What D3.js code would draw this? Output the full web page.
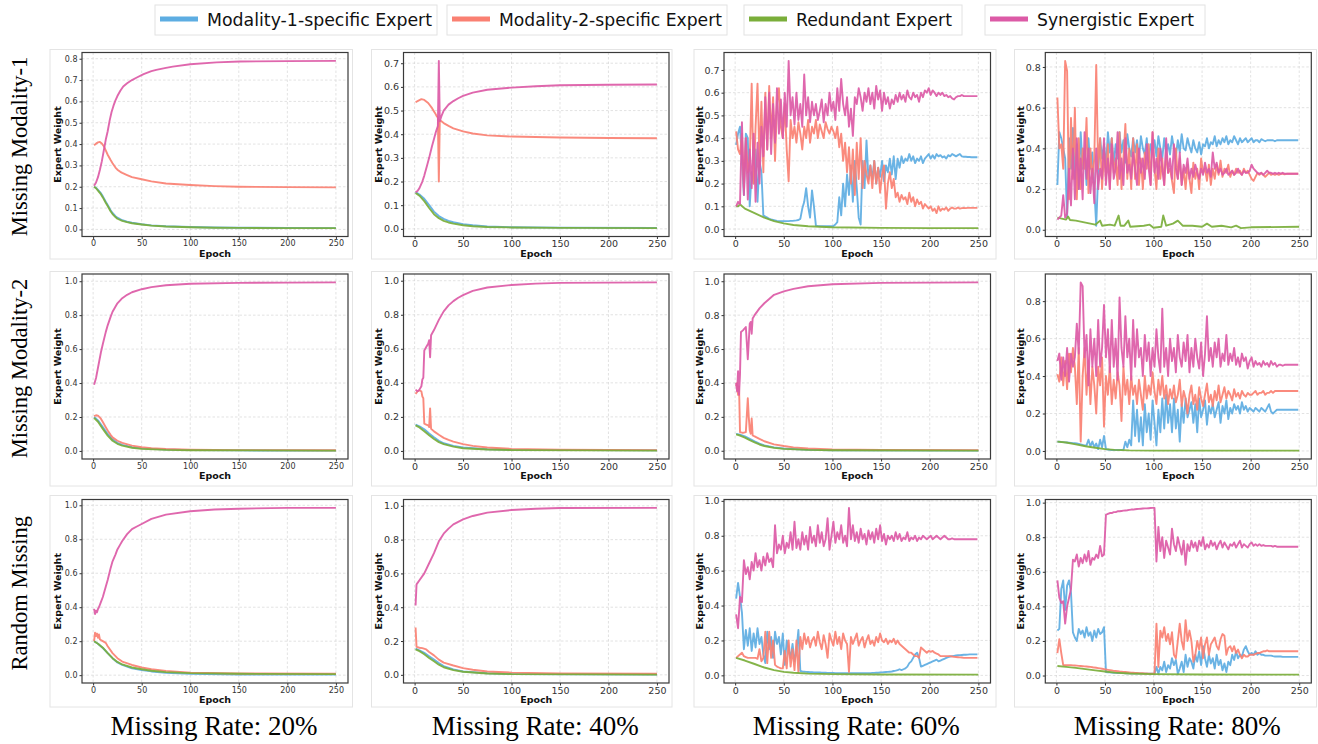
<!DOCTYPE html>
<html><head><meta charset="utf-8">
<script src="https://cdn.jsdelivr.net/npm/d3@7"></script>
<style>body{margin:0;background:#fff}svg{display:block}</style>
</head><body><svg id="c" width="1318" height="744"></svg>
<script>
// ---------------- DATA ----------------
const seriesNames = ["Modality-1-specific Expert","Modality-2-specific Expert","Redundant Expert","Synergistic Expert"];
const rowNames = ["Missing Modality-1","Missing Modality-2","Random Missing"];
const colNames = ["Missing Rate: 20%","Missing Rate: 40%","Missing Rate: 60%","Missing Rate: 80%"];
const xTicks = [0,50,100,150,200,250];
const yT08a = [0,.1,.2,.3,.4,.5,.6,.7,.8];
const yT07 = [0,.1,.2,.3,.4,.5,.6,.7];
const yT08b = [0,.2,.4,.6,.8];
const yT10 = [0,.2,.4,.6,.8,1.0];

// Row 1, col 1 (pairs [epoch, value])
const r1c1_m1 = [[1,.2],[3,.195],[5,.185],[8,.17],[10,.155],[13,.13],[15,.115],[18,.09],[20,.077],[23,.062],[25,.055],[30,.043],[35,.036],[40,.031],[50,.024],[60,.019],[75,.015],[100,.011],[125,.009],[150,.008],[200,.007],[250,.006]];
const r1c1_r  = [[1,.2],[3,.193],[5,.182],[8,.165],[10,.15],[13,.125],[15,.11],[18,.085],[20,.072],[23,.058],[25,.05],[30,.04],[35,.034],[40,.029],[50,.023],[60,.018],[75,.014],[100,.01],[125,.008],[150,.007],[200,.006],[250,.006]];
const r1c1_m2 = [[1,.395],[3,.402],[5,.408],[7,.41],[9,.403],[11,.39],[13,.37],[15,.35],[18,.325],[20,.31],[23,.29],[25,.28],[28,.27],[30,.265],[35,.255],[40,.245],[50,.235],[60,.225],[75,.215],[100,.208],[125,.203],[150,.2],[200,.198],[250,.197]];
const r1c1_s  = [[1,.205],[3,.22],[5,.245],[7,.28],[9,.32],[11,.37],[13,.42],[15,.46],[17,.51],[19,.55],[21,.58],[23,.605],[25,.625],[28,.65],[31,.67],[35,.685],[40,.7],[45,.712],[52,.728],[60,.742],[65,.748],[75,.757],[82,.763],[100,.774],[127,.783],[151,.787],[200,.789],[250,.79]];

// Row 1, col 2
const r1c2_m1 = [[1,.155],[5,.145],[10,.127],[15,.1],[20,.073],[25,.054],[30,.042],[35,.034],[40,.028],[50,.02],[60,.015],[75,.01],[100,.007],[150,.005],[250,.004]];
const r1c2_r  = [[1,.152],[5,.14],[10,.117],[15,.088],[20,.062],[25,.045],[30,.034],[35,.027],[40,.022],[50,.015],[60,.011],[75,.008],[100,.006],[150,.004],[250,.003]];
const r1c2_m2 = [[1,.535],[4,.542],[7,.548],[10,.545],[14,.532],[18,.51],[21,.49],[23,.475],[24,.47],[25,.2],[26,.46],[30,.447],[35,.435],[40,.425],[50,.412],[60,.403],[75,.395],[100,.39],[150,.386],[200,.384],[250,.383]];
const r1c2_s  = [[1,.155],[3,.16],[5,.172],[8,.2],[10,.225],[13,.27],[15,.3],[18,.35],[20,.38],[22,.41],[24,.435],[25,.71],[26,.455],[28,.48],[30,.5],[35,.525],[40,.54],[45,.552],[50,.562],[60,.576],[75,.588],[100,.597],[125,.603],[150,.607],[200,.609],[250,.61]];

// Row 1, col 3 (values at epochs 1,3,5,...,249)
const r1c3_m1 = [
.37,.42,.45,.30,.15,.42,.40,.10,.25,.20,
.35,.12,.30,.25,.06,.055,.05,.045,.042,.04,
.038,.036,.035,.034,.034,.035,.035,.035,.036,.036,
.037,.038,.040,.045,.09,.12,.18,.10,.05,.17,
.10,.015,.013,.012,.012,.012,.012,.012,.012,.013,
.013,.02,.03,.14,.06,.20,.10,.24,.15,.28,
.12,.30,.18,.05,.02,.30,.18,.39,.22,.28,
.22,.30,.20,.27,.23,.30,.21,.28,.25,.31,
.24,.32,.22,.31,.27,.32,.29,.31,.30,.33,
.30,.32,.29,.31,.30,.32,.29,.31,.32,.33,
.31,.325,.31,.33,.32,.325,.315,.32,.31,.325,
.32,.33,.325,.32,.325,.33,.32,.318,.318,.317,
.317,.316,.316,.316,.316];
const r1c3_m2 = [
.43,.35,.33,.42,.18,.40,.25,.30,.64,.20,
.45,.64,.30,.56,.25,.60,.35,.63,.40,.58,
.30,.55,.62,.45,.40,.55,.35,.21,.48,.40,
.45,.38,.47,.42,.35,.45,.40,.48,.38,.45,
.42,.48,.40,.46,.43,.40,.47,.44,.42,.45,
.43,.40,.45,.36,.42,.30,.38,.25,.36,.20,
.35,.15,.38,.22,.40,.18,.30,.24,.20,.28,
.18,.30,.20,.27,.16,.24,.28,.09,.20,.25,
.18,.22,.14,.16,.12,.15,.13,.14,.11,.16,
.12,.14,.10,.13,.11,.12,.09,.11,.10,.09,
.10,.08,.09,.07,.10,.08,.09,.085,.095,.08,
.09,.095,.09,.09,.095,.09,.092,.093,.092,.093,
.093,.093,.093,.093,.093];
const r1c3_r = [[1,.10],[3,.10],[5,.11],[6,.105],[10,.09],[15,.08],[20,.07],[30,.05],[40,.035],[50,.025],[60,.018],[75,.012],[100,.008],[150,.005],[200,.004],[250,.004]];
const r1c3_s = [
.10,.12,.11,.47,.15,.40,.13,.35,.18,.42,
.12,.38,.20,.45,.32,.58,.35,.60,.33,.55,
.38,.62,.42,.57,.40,.60,.45,.74,.50,.58,
.46,.60,.48,.55,.45,.68,.50,.58,.47,.56,
.50,.55,.48,.52,.57,.47,.55,.50,.60,.52,
.56,.48,.62,.52,.66,.55,.50,.58,.45,.53,
.41,.58,.55,.62,.58,.52,.60,.56,.62,.55,
.60,.53,.63,.57,.61,.52,.60,.55,.58,.53,
.57,.55,.59,.56,.60,.57,.59,.56,.61,.58,
.57,.60,.58,.59,.56,.60,.58,.61,.60,.62,
.59,.61,.60,.585,.60,.59,.60,.585,.59,.58,
.585,.575,.57,.58,.585,.585,.59,.585,.585,.585,
.585,.585,.585,.585,.585];

// Row 1, col 4
const r1c4_m1 = [
.22,.48,.45,.40,.35,.06,.45,.30,.50,.25,
.42,.20,.48,.30,.40,.22,.45,.30,.38,.20,
.02,.28,.45,.35,.42,.30,.48,.38,.45,.32,
.42,.35,.48,.38,.44,.33,.47,.40,.36,.45,
.38,.44,.35,.46,.40,.37,.45,.33,.42,.38,
.44,.36,.46,.40,.35,.45,.38,.42,.37,.46,
.40,.36,.44,.38,.47,.40,.39,.45,.41,.38,
.44,.40,.38,.43,.37,.42,.41,.45,.40,.43,
.42,.46,.41,.44,.42,.45,.43,.46,.42,.44,
.43,.46,.44,.42,.45,.43,.44,.45,.43,.44,
.45,.43,.44,.44,.43,.445,.44,.435,.44,.44,
.44,.44,.435,.44,.44,.44,.44,.44,.44,.44,
.44,.44,.44,.44,.44];
const r1c4_m2 = [
.65,.40,.42,.30,.83,.78,.15,.55,.25,.60,
.15,.45,.20,.40,.30,.55,.18,.40,.25,.35,
.81,.30,.45,.20,.38,.25,.42,.20,.45,.28,
.35,.22,.48,.20,.35,.52,.25,.40,.20,.45,
.25,.42,.22,.35,.20,.38,.30,.42,.22,.48,
.30,.20,.40,.25,.35,.22,.38,.28,.30,.24,
.18,.40,.25,.35,.22,.30,.20,.32,.25,.18,
.33,.25,.30,.20,.35,.28,.30,.24,.32,.22,
.30,.25,.32,.27,.34,.26,.30,.28,.32,.26,
.29,.27,.30,.28,.29,.27,.30,.28,.29,.27,
.25,.24,.26,.28,.27,.28,.27,.26,.27,.28,
.27,.275,.27,.275,.27,.275,.275,.272,.275,.275,
.275,.275,.275,.275,.275];
const r1c4_r = [[1,.06],[10,.05],[12,.065],[14,.048],[20,.045],[30,.035],[40,.025],[45,.045],[47,.02],[55,.025],[60,.02],[64,.07],[66,.02],[70,.02],[74,.045],[76,.015],[90,.02],[96,.025],[100,.01],[108,.015],[110,.07],[113,.02],[120,.03],[125,.045],[130,.02],[140,.02],[150,.015],[155,.03],[160,.015],[170,.02],[180,.012],[185,.02],[190,.008],[200,.012],[250,.015]];
const r1c4_s = [
.05,.06,.07,.17,.06,.08,.30,.12,.40,.15,
.45,.20,.35,.15,.48,.25,.40,.18,.30,.13,
.40,.20,.30,.25,.45,.22,.35,.20,.42,.25,
.30,.48,.25,.35,.22,.45,.28,.32,.25,.38,
.30,.22,.40,.28,.35,.25,.42,.30,.22,.48,
.28,.35,.25,.40,.30,.22,.45,.28,.35,.25,
.42,.30,.25,.38,.22,.32,.28,.35,.25,.30,
.26,.32,.28,.25,.30,.27,.33,.28,.30,.26,
.38,.30,.33,.28,.30,.27,.28,.30,.27,.28,
.29,.27,.28,.30,.28,.27,.29,.28,.28,.29,
.32,.30,.29,.28,.275,.28,.27,.28,.29,.28,
.28,.275,.28,.275,.28,.275,.28,.275,.275,.275,
.275,.275,.275,.275,.275];

// Row 2
const r2c1_m1 = [[1,.2],[5,.18],[10,.14],[15,.1],[20,.068],[25,.048],[30,.036],[40,.022],[50,.015],[75,.008],[100,.005],[150,.003],[250,.002]];
const r2c1_r  = [[1,.195],[5,.172],[10,.13],[15,.09],[20,.06],[25,.042],[30,.031],[40,.019],[50,.012],[75,.006],[100,.004],[250,.002]];
const r2c1_m2 = [[1,.205],[3,.21],[5,.208],[8,.19],[10,.17],[13,.14],[15,.12],[18,.095],[20,.08],[25,.06],[30,.047],[40,.031],[50,.022],[60,.016],[75,.011],[100,.007],[150,.005],[250,.004]];
const r2c1_s  = [[1,.39],[3,.43],[5,.49],[8,.58],[10,.63],[13,.7],[15,.74],[18,.79],[20,.82],[25,.87],[30,.9],[35,.92],[40,.935],[50,.953],[60,.965],[75,.976],[100,.985],[150,.99],[200,.992],[250,.993]];

const r2c2_m1 = [[1,.155],[5,.145],[10,.127],[15,.102],[20,.08],[25,.06],[30,.045],[40,.03],[50,.02],[75,.01],[100,.006],[250,.003]];
const r2c2_r  = [[1,.15],[5,.138],[10,.116],[15,.092],[20,.07],[25,.052],[30,.04],[40,.025],[50,.016],[75,.008],[100,.005],[250,.002]];
const r2c2_m2 = [[1,.335],[3,.35],[5,.355],[7,.35],[8,.32],[9,.31],[10,.16],[12,.155],[14,.15],[15,.14],[16,.25],[17,.13],[20,.115],[25,.095],[30,.077],[35,.065],[40,.055],[50,.04],[60,.03],[75,.02],[100,.012],[150,.007],[250,.005]];
const r2c2_s  = [[1,.36],[3,.35],[5,.36],[7,.38],[8,.42],[9,.43],[10,.59],[12,.61],[14,.63],[15,.65],[16,.55],[17,.68],[20,.71],[25,.77],[30,.82],[35,.855],[40,.88],[45,.9],[50,.915],[60,.94],[75,.96],[100,.975],[125,.983],[150,.987],[200,.989],[250,.99]];

const r2c3_m1 = [[1,.1],[5,.095],[10,.085],[15,.07],[20,.055],[25,.042],[30,.032],[40,.02],[50,.013],[75,.006],[100,.003],[250,.001]];
const r2c3_r  = [[1,.097],[5,.09],[10,.078],[15,.063],[20,.05],[25,.037],[30,.028],[40,.017],[50,.011],[75,.005],[100,.003],[250,.001]];
const r2c3_m2 = [[1,.38],[2,.4],[3,.33],[4,.38],[5,.11],[8,.105],[11,.11],[13,.31],[14,.2],[15,.12],[16,.1],[17,.19],[18,.09],[20,.085],[25,.07],[30,.056],[40,.038],[50,.028],[60,.02],[75,.013],[100,.008],[150,.005],[250,.004]];
const r2c3_s  = [[1,.4],[2,.35],[3,.47],[4,.33],[5,.45],[6,.7],[8,.71],[11,.73],[13,.54],[15,.75],[16,.76],[17,.69],[18,.78],[20,.8],[25,.84],[30,.87],[35,.895],[40,.92],[50,.94],[60,.955],[75,.97],[100,.982],[150,.99],[250,.993]];

const r2c4_m1 = [
.05,.049,.048,.047,.046,.045,.044,.043,.042,.041,
.04,.038,.035,.032,.03,.03,.06,.025,.05,.02,
.04,.01,.06,.02,.08,.01,.008,.006,.005,.005,
.005,.005,.005,.005,.005,.05,.02,.06,.03,.27,
.08,.22,.05,.18,.03,.25,.10,.20,.06,.27,
.15,.03,.22,.10,.28,.12,.30,.15,.25,.10,
.28,.12,.22,.05,.25,.15,.28,.18,.22,.26,
.15,.25,.10,.28,.18,.22,.27,.14,.24,.20,
.25,.18,.22,.26,.15,.24,.20,.27,.17,.23,
.20,.25,.22,.24,.20,.26,.22,.24,.21,.23,
.22,.21,.23,.22,.21,.23,.22,.21,.23,.25,
.21,.20,.21,.22,.22,.22,.22,.22,.22,.22,
.22,.22,.22,.22,.22];
const r2c4_m2 = [
.41,.37,.50,.35,.48,.33,.52,.42,.55,.45,
.25,.55,.05,.40,.55,.30,.48,.25,.45,.35,
.20,.45,.35,.50,.13,.40,.30,.45,.25,.38,
.28,.42,.35,.16,.45,.30,.38,.25,.40,.30,
.35,.25,.38,.30,.22,.40,.28,.35,.30,.42,
.32,.25,.38,.30,.40,.28,.35,.25,.33,.28,
.35,.26,.30,.38,.24,.32,.28,.20,.30,.35,
.25,.30,.22,.34,.28,.24,.30,.36,.26,.30,
.24,.32,.27,.35,.26,.30,.34,.28,.32,.30,
.27,.33,.29,.31,.28,.32,.30,.29,.31,.30,
.30,.31,.32,.30,.31,.31,.32,.30,.31,.31,
.32,.31,.32,.32,.32,.32,.32,.32,.32,.32,
.32,.32,.32,.32,.32];
const r2c4_r = [[1,.05],[10,.045],[20,.035],[30,.025],[40,.017],[50,.01],[60,.006],[75,.003],[100,.002],[250,.002]];
const r2c4_s = [
.48,.52,.38,.50,.40,.55,.37,.52,.45,.50,
.68,.52,.90,.88,.50,.62,.35,.65,.45,.60,
.40,.70,.45,.55,.78,.50,.65,.42,.70,.45,
.60,.38,.82,.55,.45,.72,.50,.60,.38,.70,
.45,.65,.50,.55,.40,.62,.48,.58,.40,.55,
.45,.65,.50,.42,.76,.45,.55,.40,.60,.48,
.55,.42,.62,.50,.45,.58,.48,.62,.42,.55,
.45,.60,.50,.44,.58,.40,.52,.72,.48,.55,
.45,.58,.50,.60,.45,.52,.48,.62,.46,.52,
.48,.55,.46,.50,.45,.52,.48,.50,.44,.48,
.50,.45,.48,.46,.47,.45,.48,.46,.47,.45,
.48,.46,.47,.45,.46,.46,.455,.46,.46,.46,
.46,.46,.46,.46,.46];

// Row 3
const r3c1_m1 = [[1,.2],[5,.185],[10,.16],[15,.13],[20,.1],[25,.075],[30,.06],[40,.04],[50,.03],[60,.022],[75,.014],[100,.008],[150,.004],[250,.003]];
const r3c1_r  = [[1,.2],[5,.185],[10,.162],[15,.13],[20,.1],[25,.078],[30,.063],[40,.045],[50,.035],[60,.026],[75,.018],[100,.012],[150,.008],[250,.006]];
const r3c1_m2 = [[1,.2],[2,.25],[3,.23],[4,.245],[5,.22],[6,.24],[7,.21],[10,.2],[13,.19],[15,.17],[20,.13],[25,.1],[30,.08],[40,.06],[50,.045],[60,.035],[75,.025],[100,.015],[150,.01],[250,.008]];
const r3c1_s  = [[1,.39],[2,.36],[3,.38],[4,.37],[5,.39],[6,.4],[8,.43],[10,.46],[13,.52],[15,.56],[18,.63],[20,.67],[23,.71],[25,.74],[28,.77],[30,.79],[35,.83],[40,.86],[45,.875],[50,.89],[60,.92],[75,.945],[100,.965],[125,.975],[150,.98],[200,.985],[250,.985]];

const r3c2_m1 = [[1,.155],[5,.145],[10,.13],[15,.11],[20,.09],[25,.07],[30,.052],[40,.032],[50,.02],[75,.009],[100,.005],[250,.002]];
const r3c2_r  = [[1,.15],[5,.14],[10,.122],[15,.1],[20,.08],[25,.06],[30,.045],[40,.028],[50,.018],[75,.008],[100,.004],[250,.001]];
const r3c2_m2 = [[1,.28],[2,.165],[5,.16],[8,.158],[12,.15],[15,.135],[20,.115],[25,.09],[30,.072],[40,.055],[50,.04],[60,.03],[75,.02],[100,.013],[150,.008],[250,.006]];
const r3c2_s  = [[1,.41],[2,.535],[5,.56],[10,.6],[15,.66],[20,.72],[25,.79],[30,.835],[35,.865],[40,.89],[50,.92],[60,.94],[75,.96],[100,.975],[125,.983],[150,.987],[250,.988]];

const r3c3_m1 = [
.44,.53,.45,.36,.15,.26,.17,.27,.14,.24,
.16,.27,.18,.22,.12,.07,.25,.15,.22,.10,
.25,.18,.22,.12,.24,.06,.20,.15,.10,.18,
.08,.14,.26,.025,.022,.021,.02,.019,.018,.018,
.017,.017,.016,.016,.015,.015,.015,.014,.014,.014,
.014,.013,.013,.013,.013,.013,.012,.012,.012,.012,
.012,.012,.012,.012,.012,.013,.013,.013,.013,.013,
.014,.014,.015,.015,.016,.017,.018,.019,.02,.021,
.022,.025,.027,.03,.035,.03,.035,.04,.05,.07,
.08,.10,.12,.13,.10,.05,.055,.06,.065,.07,
.075,.08,.085,.09,.08,.085,.09,.095,.10,.105,
.108,.11,.112,.114,.115,.116,.117,.118,.118,.119,
.12,.12,.12,.12,.12];
const r3c3_m2 = [
.10,.11,.12,.13,.11,.105,.10,.10,.10,.10,
.10,.095,.15,.08,.10,.25,.07,.25,.10,.20,
.06,.05,.045,.04,.04,.14,.04,.20,.05,.15,
.03,.20,.02,.22,.15,.24,.18,.22,.16,.20,
.22,.17,.25,.19,.15,.23,.18,.10,.24,.20,
.17,.25,.18,.22,.15,.24,.20,.18,.02,.22,
.18,.21,.24,.17,.20,.22,.16,.20,.23,.18,
.20,.17,.22,.19,.24,.20,.19,.21,.18,.20,
.19,.21,.18,.20,.18,.17,.16,.15,.14,.13,
.13,.12,.11,.11,.10,.16,.15,.14,.13,.14,
.135,.14,.13,.125,.12,.11,.11,.11,.11,.11,
.11,.108,.106,.105,.104,.103,.102,.10,.10,.10,
.10,.10,.10,.10,.10];
const r3c3_r = [[1,.1],[10,.085],[20,.065],[30,.045],[40,.03],[50,.02],[60,.015],[75,.01],[100,.007],[150,.005],[250,.004]];
const r3c3_s = [
.35,.27,.45,.42,.66,.58,.62,.55,.65,.60,
.70,.62,.66,.60,.68,.63,.70,.65,.67,.62,
.86,.70,.75,.72,.80,.70,.76,.73,.82,.72,
.88,.73,.78,.72,.82,.75,.80,.72,.85,.76,
.80,.74,.86,.76,.82,.74,.78,.90,.72,.80,
.88,.76,.82,.78,.86,.76,.80,.74,.96,.78,
.86,.77,.82,.76,.84,.78,.81,.75,.83,.78,
.82,.76,.84,.78,.86,.77,.81,.75,.80,.78,
.80,.77,.82,.78,.81,.77,.79,.78,.82,.77,
.79,.78,.80,.77,.79,.78,.80,.79,.78,.79,
.80,.78,.79,.80,.79,.78,.79,.80,.79,.78,
.78,.785,.78,.78,.78,.78,.78,.78,.78,.78,
.78,.78,.78,.78,.78];

const r3c4_m1 = [
.26,.27,.50,.55,.38,.52,.55,.48,.25,.22,
.20,.27,.24,.26,.22,.28,.23,.25,.20,.26,
.22,.27,.24,.25,.28,.02,.019,.018,.017,.016,
.016,.015,.015,.014,.014,.013,.013,.013,.012,.012,
.012,.012,.011,.011,.011,.011,.011,.01,.01,.01,
.01,.05,.01,.05,.03,.08,.02,.06,.04,.10,
.06,.09,.01,.04,.08,.02,.12,.05,.10,.08,
.04,.12,.08,.14,.06,.17,.10,.05,.12,.07,
.10,.04,.12,.06,.09,.03,.07,.02,.08,.06,
.12,.09,.14,.10,.12,.11,.15,.17,.14,.12,
.13,.12,.14,.12,.13,.12,.12,.115,.115,.115,
.115,.112,.11,.11,.11,.11,.108,.108,.108,.108,
.108,.108,.108,.108,.108];
const r3c4_m2 = [
.13,.21,.13,.06,.06,.06,.06,.06,.059,.058,
.057,.056,.055,.054,.053,.052,.051,.05,.048,.046,
.045,.043,.041,.039,.037,.035,.033,.031,.029,.027,
.026,.025,.023,.022,.021,.02,.019,.018,.017,.016,
.015,.015,.014,.013,.013,.012,.012,.011,.011,.01,
.01,.30,.05,.26,.22,.28,.20,.24,.18,.25,
.12,.10,.20,.30,.20,.15,.32,.20,.26,.20,
.08,.12,.20,.15,.22,.10,.18,.22,.12,.18,
.20,.22,.17,.15,.21,.24,.23,.12,.16,.17,
.14,.17,.13,.15,.12,.10,.12,.11,.11,.12,
.12,.12,.125,.13,.13,.135,.14,.14,.145,.14,
.14,.14,.14,.14,.14,.14,.14,.14,.14,.14,
.14,.14,.14,.14,.14];
const r3c4_r = [[1,.055],[10,.05],[20,.044],[30,.037],[40,.03],[50,.023],[60,.017],[75,.012],[100,.008],[150,.006],[250,.005]];
const r3c4_s = [
.55,.45,.42,.43,.30,.40,.45,.50,.67,.66,
.70,.63,.68,.65,.70,.66,.72,.64,.68,.67,
.70,.68,.75,.69,.70,.93,.935,.94,.94,.945,
.945,.95,.95,.952,.954,.955,.956,.958,.96,.96,
.962,.963,.964,.965,.966,.967,.967,.968,.969,.97,
.97,.66,.86,.72,.80,.68,.78,.74,.70,.85,
.76,.72,.80,.75,.70,.78,.64,.76,.72,.78,
.74,.77,.72,.78,.75,.80,.73,.76,.74,.78,
.75,.77,.73,.76,.78,.74,.77,.75,.73,.76,
.75,.77,.74,.76,.78,.74,.76,.75,.74,.76,
.77,.75,.76,.75,.76,.75,.755,.75,.75,.75,
.75,.745,.75,.745,.745,.745,.745,.745,.745,.745,
.745,.745,.745,.745,.745];

// ---------------- BUILD ----------------
const COLORS = ["#5DADE2","#FA8072","#7AAE3A","#DC5AA6"];
const g2 = vals => vals.map((v,i)=>[1+2*i, v]);   // values sampled every 2 epochs from epoch 1
const P = a => (typeof a[0] === "number") ? g2(a) : a;

const panels = [
 {r:0,c:0,yt:yT08a,d:[r1c1_m1,r1c1_m2,r1c1_r,r1c1_s]},
 {r:0,c:1,yt:yT07, d:[r1c2_m1,r1c2_m2,r1c2_r,r1c2_s]},
 {r:0,c:2,yt:yT07, d:[r1c3_m1,r1c3_m2,r1c3_r,r1c3_s]},
 {r:0,c:3,yt:yT08b,d:[r1c4_m1,r1c4_m2,r1c4_r,r1c4_s]},
 {r:1,c:0,yt:yT10, d:[r2c1_m1,r2c1_m2,r2c1_r,r2c1_s]},
 {r:1,c:1,yt:yT10, d:[r2c2_m1,r2c2_m2,r2c2_r,r2c2_s]},
 {r:1,c:2,yt:yT10, d:[r2c3_m1,r2c3_m2,r2c3_r,r2c3_s]},
 {r:1,c:3,yt:yT08b,d:[r2c4_m1,r2c4_m2,r2c4_r,r2c4_s]},
 {r:2,c:0,yt:yT10, d:[r3c1_m1,r3c1_m2,r3c1_r,r3c1_s]},
 {r:2,c:1,yt:yT10, d:[r3c2_m1,r3c2_m2,r3c2_r,r3c2_s]},
 {r:2,c:2,yt:yT10, d:[r3c3_m1,r3c3_m2,r3c3_r,r3c3_s]},
 {r:2,c:3,yt:yT10, d:[r3c4_m1,r3c4_m2,r3c4_r,r3c4_s]},
];

const colL = [82, 403.5, 724, 1045.3], colR = [348, 669, 990.5, 1311.3];
const rowT = [52.5, 274, 499.5], rowB = [236.5, 459, 683];
const oL = [50, 371.5, 694, 1014.5], oR = [352.5, 672, 996, 1316.5];
const oT = [49.5, 271.5, 495.5], oB = [259, 486, 707];

const svg = d3.select("#c");
const FONT = "'DejaVu Sans', sans-serif";

panels.forEach(p => {
  const L = colL[p.c], R = colR[p.c], T = rowT[p.r], B = rowB[p.r];
  const series = p.d.map(P);
  const vals = series.flat().map(d => d[1]);
  const lo = d3.min(vals), hi = d3.max(vals), pad = (hi - lo) * 0.05;
  const x = d3.scaleLinear().domain([1 - 12.45, 250 + 12.45]).range([L, R]);
  const y = d3.scaleLinear().domain([lo - pad, hi + pad]).range([B, T]);
  const tickFs = p.c === 0 ? 8 : 9.5;

  const g = svg.append("g");
  g.append("rect").attr("x", oL[p.c]).attr("y", oT[p.r])
    .attr("width", oR[p.c] - oL[p.c]).attr("height", oB[p.r] - oT[p.r])
    .attr("fill", "none").attr("stroke", "#e4e4e4").attr("stroke-width", 1);

  // grid
  g.append("g").selectAll("line").data(xTicks).join("line")
    .attr("x1", d => x(d)).attr("x2", d => x(d)).attr("y1", T).attr("y2", B)
    .attr("stroke", "#d6d6d6").attr("stroke-width", 0.7).attr("stroke-dasharray", "2.5,2");
  g.append("g").selectAll("line").data(p.yt).join("line")
    .attr("y1", d => y(d)).attr("y2", d => y(d)).attr("x1", L).attr("x2", R)
    .attr("stroke", "#d6d6d6").attr("stroke-width", 0.7).attr("stroke-dasharray", "2.5,2");

  // lines
  const line = d3.line().x(d => x(d[0])).y(d => y(d[1]));
  series.forEach((s, i) => {
    g.append("path").datum(s).attr("d", line).attr("fill", "none")
      .attr("stroke", COLORS[i]).attr("stroke-width", 1.9)
      .attr("stroke-linejoin", "round").attr("opacity", 0.92);
  });

  // axes
  const ax = g.append("g").attr("transform", `translate(0,${B})`)
    .call(d3.axisBottom(x).tickValues(xTicks).tickSize(2.5).tickPadding(1.5).tickFormat(d3.format("d")));
  const ay = g.append("g").attr("transform", `translate(${L},0)`)
    .call(d3.axisLeft(y).tickValues(p.yt).tickSize(2.5).tickPadding(2).tickFormat(d3.format(".1f")));
  [ax, ay].forEach(a => {
    a.select(".domain").remove();
    a.selectAll("line").attr("stroke", "#333");
    a.selectAll("text").attr("font-family", FONT).attr("font-size", tickFs).attr("fill", "#333");
  });

  // frame
  g.append("rect").attr("x", L).attr("y", T).attr("width", R - L).attr("height", B - T)
    .attr("fill", "none").attr("stroke", "#3a3a3a").attr("stroke-width", 1.2);

  // axis labels
  g.append("text").attr("x", (L + R) / 2).attr("y", B + 20).attr("text-anchor", "middle")
    .attr("font-family", FONT).attr("font-weight", "bold").attr("font-size", 9.5).attr("fill", "#111").text("Epoch");
  g.append("text").attr("transform", `translate(${L - 21.5},${(T + B) / 2}) rotate(-90)`)
    .attr("text-anchor", "middle").attr("font-family", FONT).attr("font-weight", "bold")
    .attr("font-size", 9.5).attr("fill", "#111").text("Expert Weight");
});

// row labels
rowNames.forEach((n, i) => {
  svg.append("text").attr("transform", `translate(27,${(rowT[i] + rowB[i]) / 2 + 2}) rotate(-90)`)
    .attr("text-anchor", "middle").attr("font-family", "'Liberation Serif', 'Times New Roman', serif")
    .attr("font-size", 22.5).attr("fill", "#000").text(n);
});
// column labels
colNames.forEach((n, i) => {
  svg.append("text").attr("x", (colL[i] + colR[i]) / 2 - 1).attr("y", 735).attr("text-anchor", "middle")
    .attr("font-family", "'Liberation Serif', 'Times New Roman', serif")
    .attr("font-size", 27).attr("fill", "#000").text(n);
});

// legend
const legBox = [[155,437],[447,727],[744,962],[985,1205]];
const legTextW = [225, 223, 156, 157];
seriesNames.forEach((n, i) => {
  const [a, b] = legBox[i];
  const lg = svg.append("g");
  lg.append("rect").attr("x", a).attr("y", 5).attr("width", b - a).attr("height", 30)
    .attr("fill", "#fff").attr("stroke", "#e2e2e2");
  lg.append("line").attr("x1", a + 5).attr("x2", a + 43).attr("y1", 19).attr("y2", 19)
    .attr("stroke", COLORS[i]).attr("stroke-width", 5);
  lg.append("text").attr("x", a + 52).attr("y", 26).attr("font-family", FONT).attr("font-size", 18.5)
    .attr("fill", "#111").attr("textLength", legTextW[i]).attr("lengthAdjust", "spacingAndGlyphs").text(n);
});
</script></body></html>
